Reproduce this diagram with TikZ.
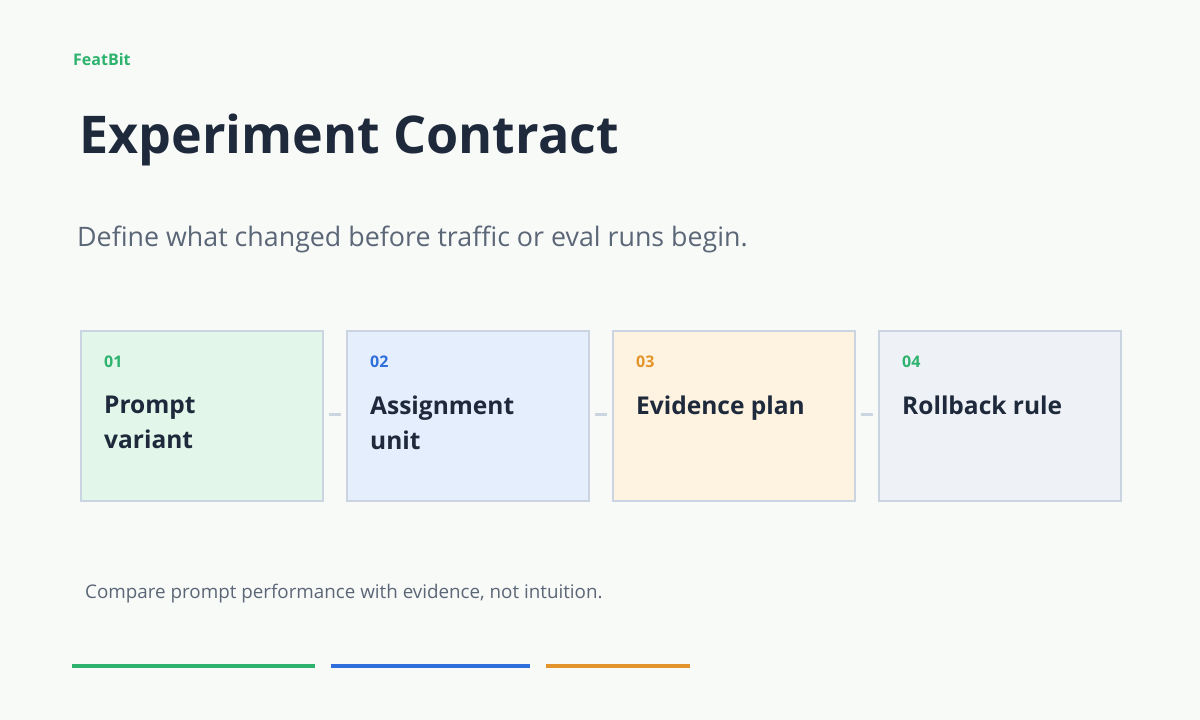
\documentclass[tikz,border=0pt]{standalone}
\usepackage{fontspec}
\setmainfont{Open Sans}
\definecolor{bg}{HTML}{F8FAF8}
\definecolor{gr}{HTML}{2DB36E}
\definecolor{bl}{HTML}{2F6FDB}
\definecolor{og}{HTML}{E3952B}
\definecolor{dk}{HTML}{1E293B}
\definecolor{sub}{HTML}{5B6677}
\definecolor{bd}{HTML}{CBD5E1}
\definecolor{fg}{HTML}{E3F6EA}
\definecolor{fb}{HTML}{E5EEFD}
\definecolor{fo}{HTML}{FEF3E0}
\definecolor{fs}{HTML}{EEF2F7}
\begin{document}
\begin{tikzpicture}[x=1pt,y=-1pt,
  card/.style={draw=bd,line width=2pt,minimum width=242pt,minimum height=170pt,anchor=north west,inner sep=0},
  num/.style={anchor=base west,font=\fontsize{16}{18}\selectfont\bfseries,inner sep=0},
  ttl/.style={anchor=north west,font=\fontsize{24.5}{35}\selectfont\bfseries,text=dk,align=left,inner sep=0},
  link/.style={draw=bd,line width=3pt}]
\fill[bg] (0,0) rectangle (1200,720);
\useasboundingbox (0,0) rectangle (1200,720);
\node[anchor=base west,inner sep=0,text=gr,font=\fontsize{16}{18}\selectfont\bfseries] (brand) at (73,65) {FeatBit};
\node[anchor=base west,inner sep=0,text=dk,font=\fontsize{52}{60}\selectfont\bfseries] (title) at (79,153) {Experiment Contract};
\node[anchor=base west,inner sep=0,text=sub,font=\fontsize{26.8}{30}\selectfont] (subt) at (77,246) {Define what changed before traffic or eval runs begin.};
\node[card,fill=fg] (c1) at (80,330) {};
\node[card,fill=fb] (c2) at (346,330) {};
\node[card,fill=fo] (c3) at (612,330) {};
\node[card,fill=fs] (c4) at (878,330) {};
\foreach \c/\n/\col/\t in {c1/01/gr/{Prompt\\variant},c2/02/bl/{Assignment\\unit},c3/03/og/{Evidence plan},c4/04/gr/{Rollback rule}}{
  \node[num,text=\col] (\c n) at ([xshift=24pt,yshift=-37pt]\c.north west) {\n};
  \node[ttl] (\c t) at ([xshift=24pt,yshift=-66pt]\c.north west) {\t};
}
\draw[link] ([xshift=5pt,yshift=-84pt]c1.north east) -- ([xshift=-5pt,yshift=-84pt]c2.north west);
\draw[link] ([xshift=5pt,yshift=-84pt]c2.north east) -- ([xshift=-5pt,yshift=-84pt]c3.north west);
\draw[link] ([xshift=5pt,yshift=-84pt]c3.north east) -- ([xshift=-5pt,yshift=-84pt]c4.north west);
\node[anchor=base west,inner sep=0,text=sub,font=\fontsize{18.8}{20}\selectfont] (foot) at (85,598) {Compare prompt performance with evidence, not intuition.};
\fill[gr] (72,664) rectangle (315,668);
\fill[bl] (331,664) rectangle (530,668);
\fill[og] (546,664) rectangle (690,668);
\end{tikzpicture}
\end{document}
